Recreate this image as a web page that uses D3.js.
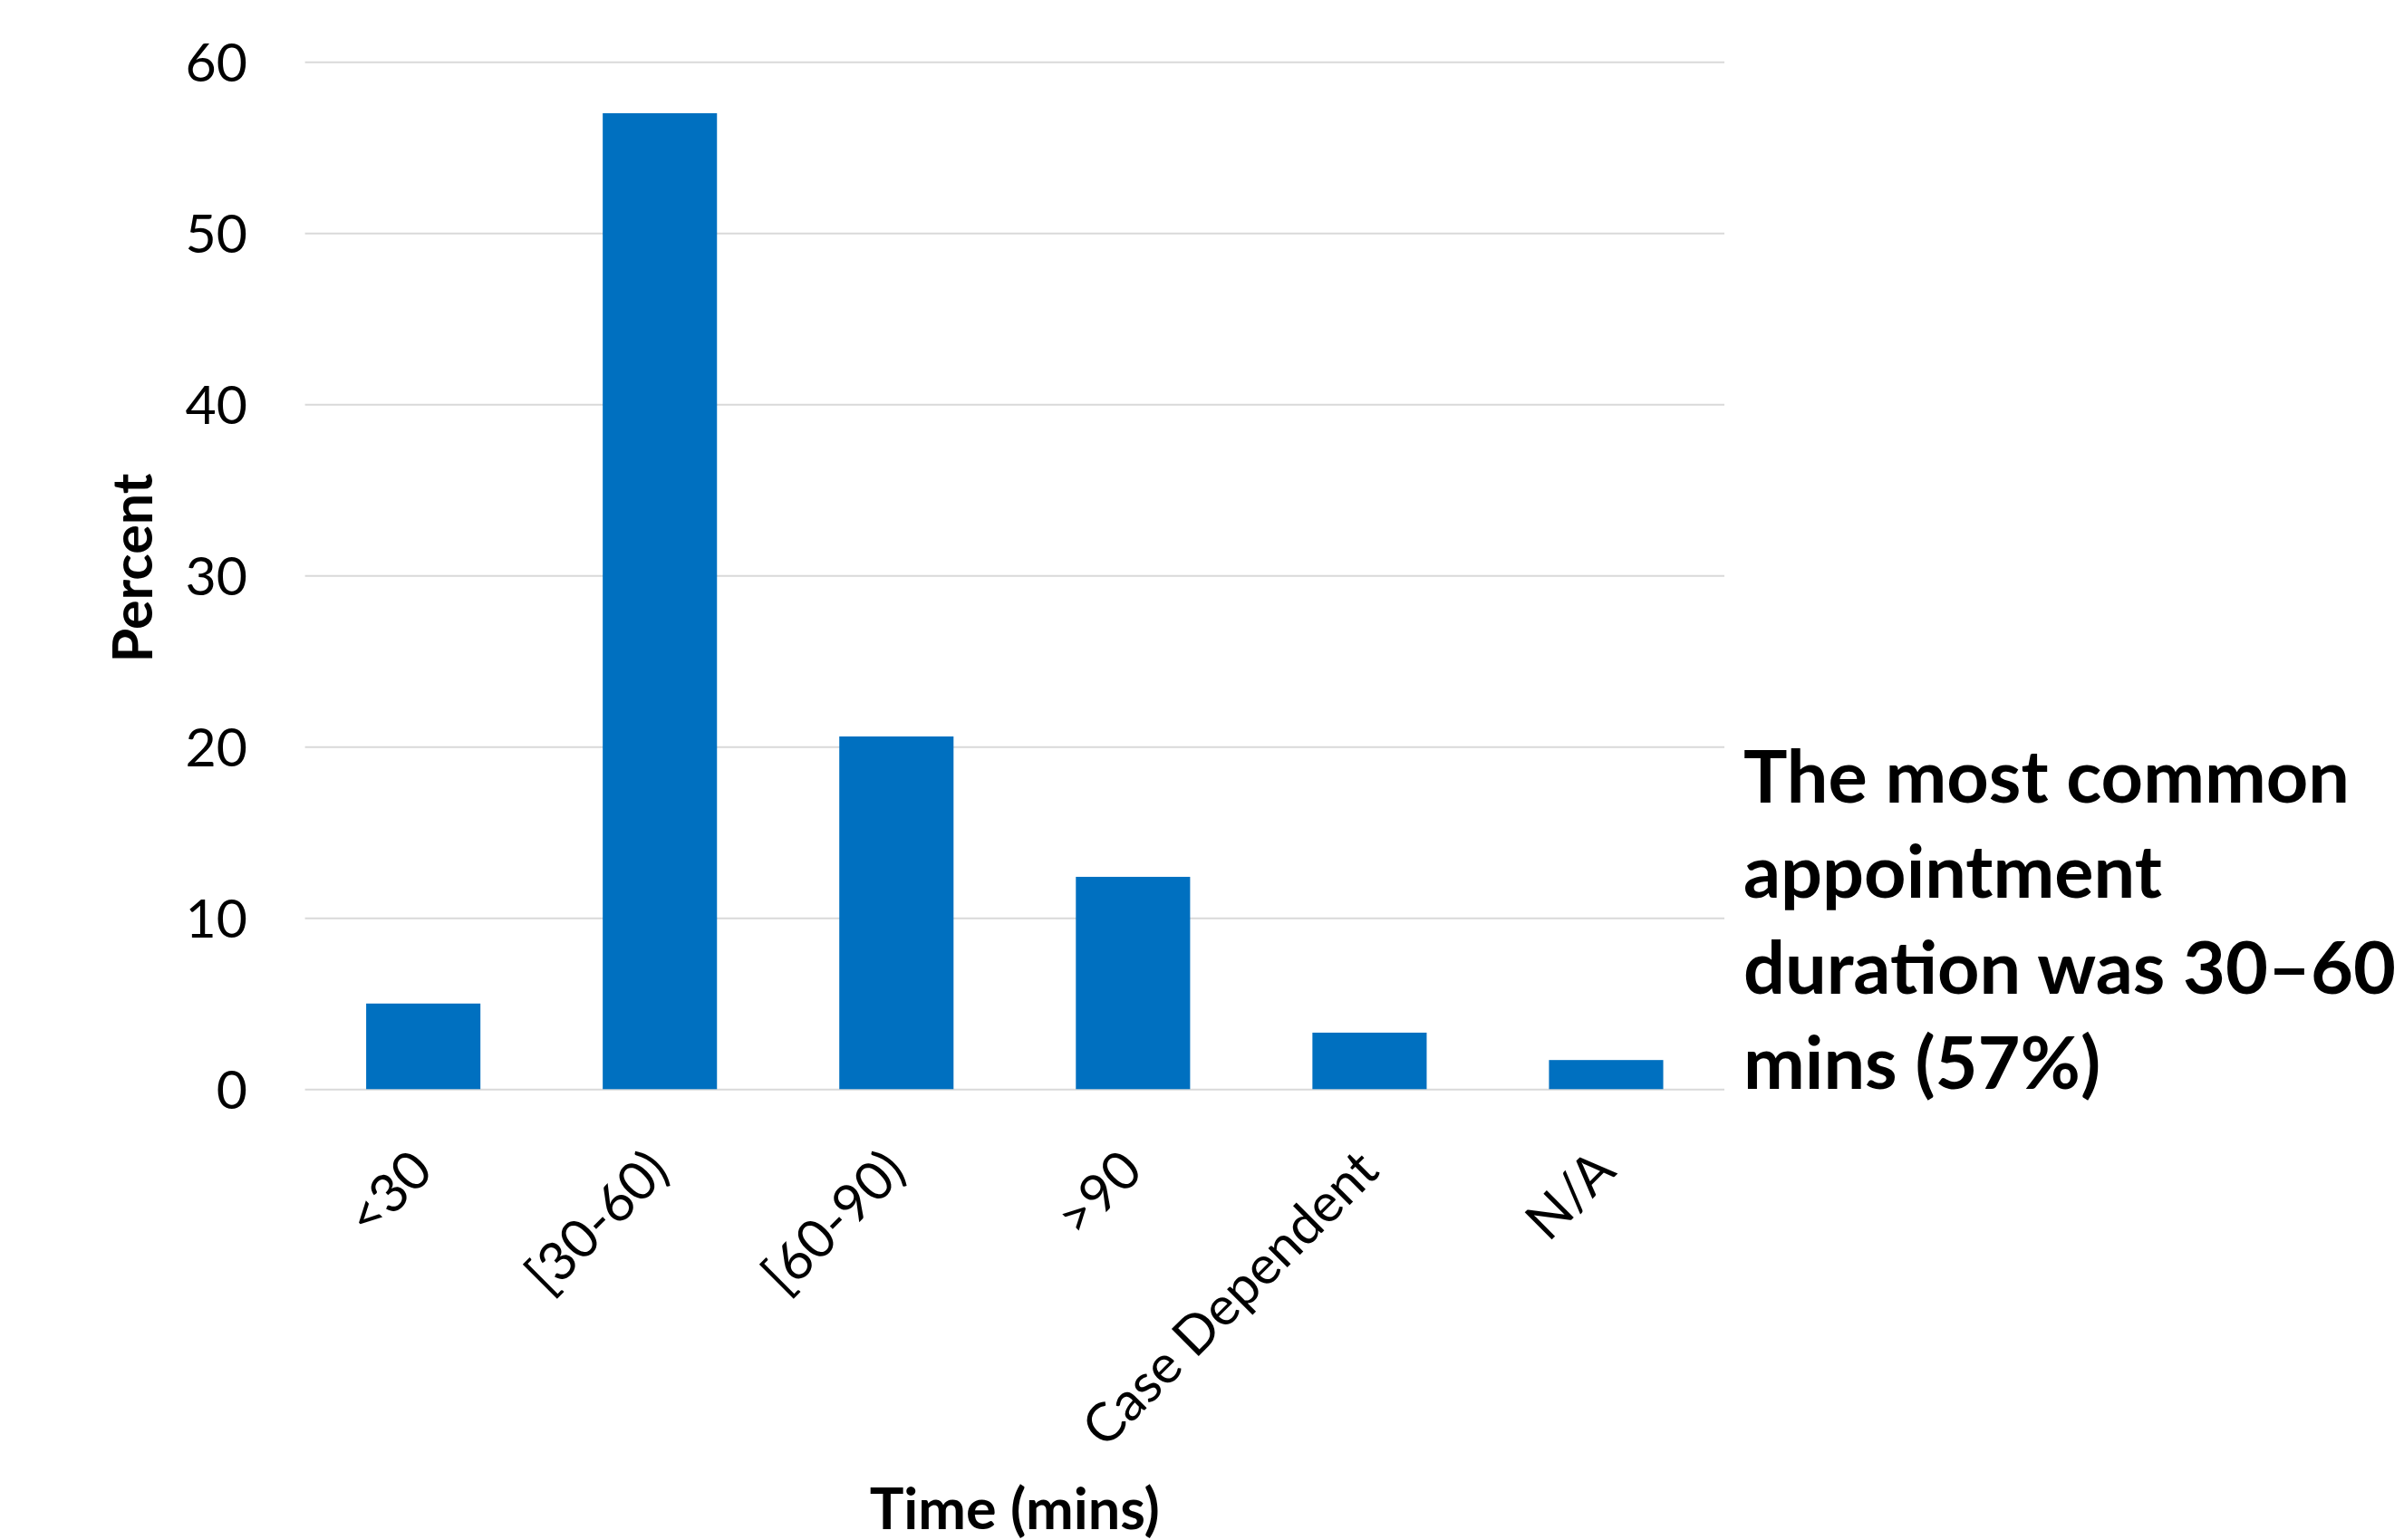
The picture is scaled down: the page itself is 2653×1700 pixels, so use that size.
<!DOCTYPE html>
<html>
<head>
<meta charset="utf-8">
<script src="https://cdn.jsdelivr.net/npm/d3@7"></script>
<style>
  html, body { margin: 0; padding: 0; background: #ffffff; }
  svg { display: block; }
</style>
</head>
<body>
<svg id="chart" width="2653" height="1700"></svg>
<script>
const categories = ["<30", "[30-60)", "[60-90)", ">90", "Case Dependent", "N/A"];
const percentValues = [5.0, 57.0, 20.6, 12.4, 3.3, 1.7];
const yTickValues = [0, 10, 20, 30, 40, 50, 60];
const xAxisTitle = "Time (mins)";
const yAxisTitle = "Percent";
const annotationLines = ["The most common", "appointment", "duration was 30\u201360", "mins (57%)"];

const FONT = "Lato, 'Open Sans', sans-serif";
const svg = d3.select("#chart");

const plot = { left: 336.6, right: 1903, top: 68.3, bottom: 1202.3 };

const x = d3.scaleBand()
  .domain(categories)
  .range([plot.left, plot.right])
  .paddingInner(0.517)
  .paddingOuter(0.2585);

const y = d3.scaleLinear()
  .domain([0, 60])
  .range([plot.bottom, plot.top]);

// gridlines + y tick labels
const yAxis = d3.axisLeft(y)
  .tickValues(yTickValues)
  .tickSize(-(plot.right - plot.left))
  .tickPadding(63.6)
  .tickFormat(d3.format("d"));

const gy = svg.append("g")
  .attr("transform", `translate(${plot.left},0)`)
  .call(yAxis);
gy.select(".domain").remove();
gy.selectAll(".tick line").attr("stroke", "#d9d9d9").attr("stroke-width", 2);
gy.selectAll(".tick text")
  .attr("fill", "#000")
  .style("font-family", FONT)
  .style("font-size", "59px")
  .attr("dy", "0.36em");

// bars
svg.append("g").selectAll("rect")
  .data(categories)
  .join("rect")
  .attr("x", d => x(d))
  .attr("width", x.bandwidth())
  .attr("y", (d, i) => y(percentValues[i]))
  .attr("height", (d, i) => y(0) - y(percentValues[i]))
  .attr("fill", "#0070c0");

// x axis labels
const xAxis = d3.axisBottom(x).tickSize(0);
const gx = svg.append("g")
  .attr("transform", `translate(0,${plot.bottom})`)
  .call(xAxis);
gx.select(".domain").remove();
gx.selectAll(".tick text")
  .attr("fill", "#000")
  .attr("x", 0).attr("y", 0).attr("dy", 0)
  .attr("text-anchor", "end")
  .attr("transform", "translate(13,93) rotate(-45)")
  .style("font-family", FONT)
  .style("font-size", "59px");

// axis titles
svg.append("text")
  .attr("x", (plot.left + plot.right) / 2)
  .attr("y", 1688)
  .attr("text-anchor", "middle")
  .style("font-family", FONT)
  .style("font-weight", "bold")
  .style("font-size", "63px")
  .text(xAxisTitle);

svg.append("text")
  .attr("transform", "translate(168,627) rotate(-90)")
  .attr("text-anchor", "middle")
  .style("font-family", FONT)
  .style("font-weight", "bold")
  .style("font-size", "61px")
  .text(yAxisTitle);

// annotation
const ann = svg.append("text")
  .attr("x", 1924)
  .attr("y", 886)
  .style("font-family", FONT)
  .style("font-weight", "bold")
  .style("font-size", "81px");
ann.selectAll("tspan")
  .data(annotationLines)
  .join("tspan")
  .attr("x", 1924)
  .attr("y", (d, i) => 886 + i * 105.3)
  .text(d => d);
</script>
</body>
</html>
